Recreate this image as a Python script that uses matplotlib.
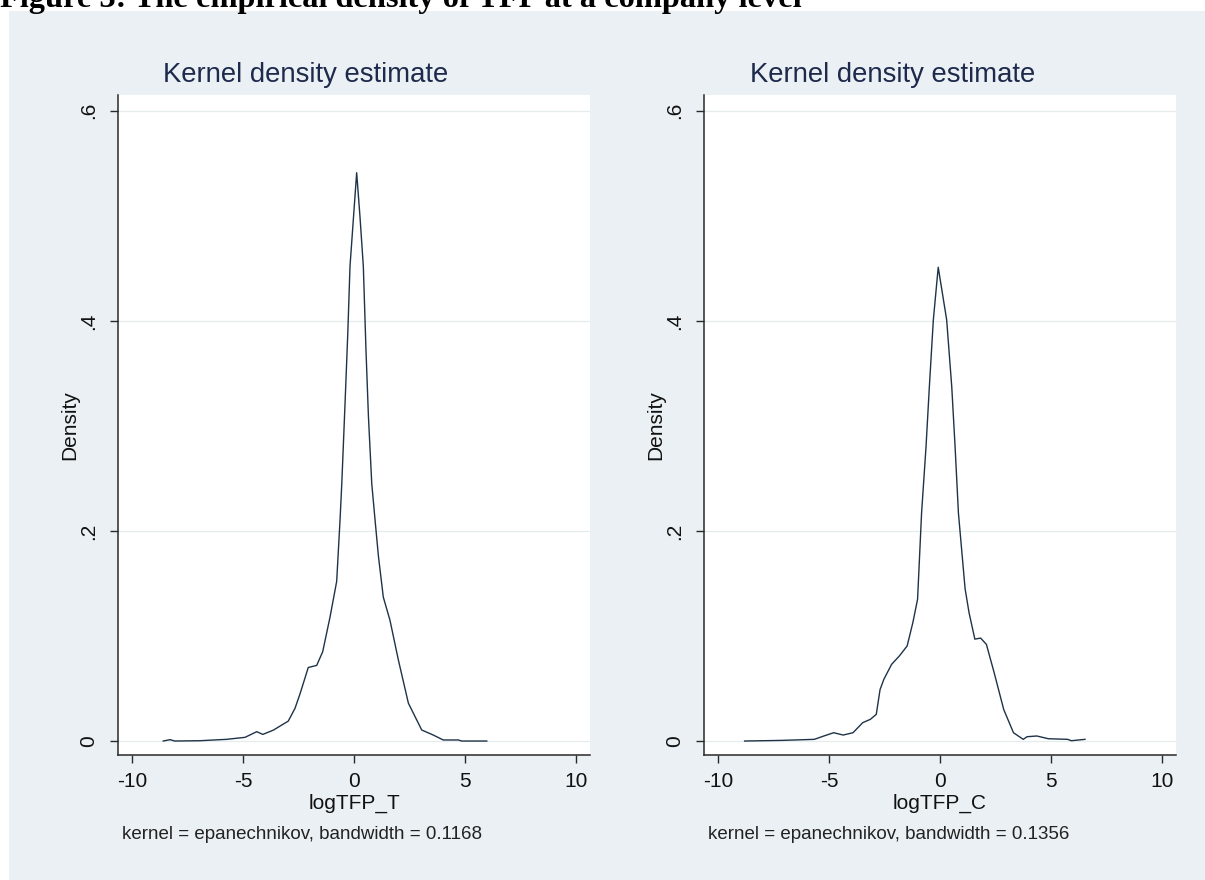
import matplotlib
matplotlib.use("Agg")
import matplotlib.pyplot as plt
from matplotlib.patches import Rectangle

# density curves
x_T = [-8.59, -8.29, -8.07, -6.94, -5.74, -4.91, -4.38, -4.11, -3.63, -2.96,
       -2.66, -2.43, -2.06, -1.68, -1.41, -1.08, -0.78, -0.63, -0.55, -0.41,
       -0.28, -0.18, 0.12, 0.27, 0.42, 0.54, 0.65, 0.80, 0.95, 1.10,
       1.32, 1.62, 2.00, 2.45, 3.05, 3.57, 4.02, 4.70, 4.85, 5.98]
y_T = [0.0, 0.0013, 0.0, 0.0003, 0.0016, 0.0035, 0.0089, 0.0063, 0.0104, 0.019,
       0.031, 0.045, 0.070, 0.072, 0.085, 0.118, 0.152, 0.21, 0.245, 0.318,
       0.388, 0.452, 0.541, 0.499, 0.452, 0.372, 0.309, 0.245, 0.21, 0.176,
       0.137, 0.115, 0.077, 0.036, 0.0105, 0.0057, 0.001, 0.001, 0.0, 0.0]

x_C = [-8.80, -7.14, -5.66, -5.23, -4.79, -4.36, -3.92, -3.48, -3.14, -2.87,
       -2.70, -2.53, -2.18, -1.83, -1.48, -1.22, -1.01, -0.83, -0.63, -0.48,
       -0.30, -0.08, 0.30, 0.53, 0.68, 0.83, 1.13, 1.31, 1.57, 1.83,
       2.09, 2.44, 2.87, 3.31, 3.75, 3.92, 4.36, 4.88, 5.75, 5.92, 6.53]
y_C = [0.0, 0.0006, 0.0016, 0.0048, 0.0079, 0.0057, 0.0079, 0.0175, 0.0206, 0.0254,
       0.049, 0.0587, 0.073, 0.081, 0.0905, 0.113, 0.135, 0.217, 0.280, 0.337,
       0.401, 0.451, 0.401, 0.337, 0.280, 0.217, 0.145, 0.122, 0.097, 0.098,
       0.092, 0.065, 0.030, 0.0079, 0.0016, 0.0041, 0.0048, 0.0022, 0.0016, 0.0003, 0.0016]

x_ticks = [-10, -5, 0, 5, 10]
y_ticks = [0, 0.2, 0.4, 0.6]
y_ticklabels = ["0", ".2", ".4", ".6"]
x_labels = ["logTFP_T", "logTFP_C"]
notes = ["kernel = epanechnikov, bandwidth = 0.1168",
         "kernel = epanechnikov, bandwidth = 0.1356"]
panel_title = "Kernel density estimate"
heading = "Figure 3: The empirical density of TFP at a company level"

W, H = 1205, 880
plt.rcParams["font.family"] = ["Liberation Sans", "DejaVu Sans"]
plt.rcParams["axes.unicode_minus"] = False
fig = plt.figure(figsize=(W / 100, H / 100), dpi=100, facecolor="white")

bg = "#EAF0F3"
fig.patches.append(Rectangle((9 / W, 0), 1, (H - 11) / H, transform=fig.transFigure,
                             facecolor=bg, edgecolor="none", zorder=-5))

line_col = "#1E3348"
axis_col = "#2A2A2A"

panels = [(x_T, y_T, 118, 306), (x_C, y_C, 704, 893)]
for i, (xs, ys, left_px, title_px) in enumerate(panels):
    ax = fig.add_axes([left_px / W, (H - 755) / H, 472 / W, 660 / H])
    ax.set_zorder(2)
    ax.set_facecolor("white")
    ax.plot(xs, ys, color=line_col, lw=1.0, zorder=3)
    ax.set_xlim(-10.63, 10.63)
    ax.set_ylim(-0.0133, 0.615)
    ax.set_xticks(x_ticks)
    ax.set_yticks(y_ticks)
    ax.set_yticklabels(y_ticklabels, rotation=90, va="center")
    for y in y_ticks:
        ax.axhline(y, color="#E6EBEE", lw=0.9, zorder=1)
    for s in ["top", "right"]:
        ax.spines[s].set_visible(False)
    for s in ["left", "bottom"]:
        ax.spines[s].set_color(axis_col)
        ax.spines[s].set_linewidth(1.1)
    ax.tick_params(axis="both", direction="out", length=6, width=1.0,
                   color=axis_col, labelsize=15, labelcolor="#111111")
    ax.tick_params(axis="x", pad=6)
    ax.tick_params(axis="y", pad=8)
    ax.set_xlabel(x_labels[i], fontsize=15, color="#111111")
    ax.xaxis.set_label_coords(0.5, -0.058)
    ax.set_ylabel("Density", fontsize=15, color="#111111")
    ax.yaxis.set_label_coords(-0.083, 0.5)
    ax.text(0.0085, (755 - 839) / 660, notes[i], transform=ax.transAxes,
            fontsize=13.5, color="#222222", va="baseline", ha="left")
    fig.text(title_px / W, (H - 82) / H, panel_title, fontsize=19.8,
             color="#1E2A4C", ha="center", va="baseline", zorder=3)

# bold heading, cut at the top edge as in the scan
t = fig.text(0.0, (H - 7) / H, heading, fontsize=20, fontweight="bold",
             family="Liberation Serif", color="black", ha="left", va="baseline")
r = fig.canvas.get_renderer()
w = t.get_window_extent(r).width
t.set_fontsize(20 * 800 / w)

fig.savefig("out.png", dpi=100, facecolor="white")
